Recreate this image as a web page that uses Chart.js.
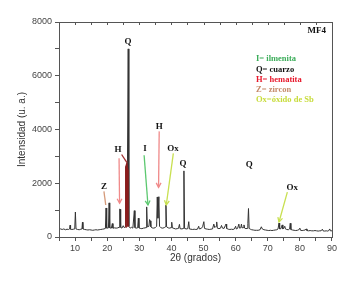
<!DOCTYPE html>
<html lang="es">
<head>
<meta charset="UTF-8">
<title>MF4 - DRX</title>
<script src="https://cdn.jsdelivr.net/npm/chart.js"></script>
<style>
    body { margin: 0; background: #fff; }
    .wrap { width: 339px; height: 281px; position: relative; }
</style>
</head>
<body>
<div class="wrap"><canvas id="drx" width="339" height="281"></canvas></div>
<script>
// 2theta (grados) and intensity (u. a.)
const theta = [5.0,5.5,6.0,6.5,7.0,7.5,8.0,8.3,8.45,8.6,9.0,9.5,9.9,10.1,10.3,10.8,11.3,11.8,12.15,12.3,12.45,13.0,13.5,14,14.5,15,15.5,16,16.5,17,17.5,18,18.5,19,19.45,19.65,19.85,20.4,20.6,20.8,21.3,21.6,21.8,22.3,22.8,23.3,23.7,23.9,24.05,24.2,24.6,25.0,25.3,25.7,25.85,26.1,26.3,26.55,26.75,27.2,27.6,28.0,28.45,28.65,29.0,29.5,29.7,29.9,30.3,30.8,31.3,31.8,32.1,32.3,32.5,33.0,33.2,33.4,33.6,34.0,34.5,35.0,35.4,35.6,35.8,36.1,36.3,36.8,37.3,37.8,38.1,38.3,38.5,39.0,39.5,39.9,40.1,40.3,40.8,41.3,41.8,42.2,42.5,42.7,43.3,43.7,43.9,44.1,44.6,45.1,45.4,45.6,46.1,46.6,47.1,47.6,48.1,48.5,48.7,49.3,49.7,50.1,50.3,50.8,51.3,51.8,52.3,52.8,53.2,53.5,53.9,54.1,54.3,54.8,55.3,55.6,55.9,56.4,56.8,57.0,57.2,57.7,58.2,58.7,59.2,59.6,60.0,60.2,60.6,61.0,61.2,61.6,61.8,62.0,62.4,62.6,62.8,63.2,63.6,63.8,64.0,64.2,64.6,65.0,65.5,66,66.5,67,67.6,68.0,68.3,68.8,69.3,69.8,70.3,70.8,71.3,71.8,72.3,72.8,73.2,73.5,73.7,74.1,74.5,74.7,75.0,75.3,75.5,75.9,76.4,76.8,77.0,77.2,77.7,78.2,78.7,79.2,79.6,80.0,80.2,80.7,81.2,81.6,82.0,82.2,82.7,83.2,83.7,84.2,84.7,85.2,85.7,86.2,86.6,87.0,87.2,87.7,88.2,88.7,89.0,89.3,89.5,90];
const intensidad = [330,300,280,300,270,290,280,300,440,290,280,290,300,930,300,280,270,290,300,550,300,280,270,260,270,260,250,260,270,260,270,280,290,300,320,1080,330,340,1270,340,330,500,330,340,330,340,360,1040,1030,360,330,420,350,380,2600,2700,2500,7000,400,330,360,330,980,350,330,340,700,340,320,310,330,340,350,1120,380,400,650,600,380,340,330,350,400,1490,700,1500,400,340,330,350,380,1190,380,340,330,350,550,340,320,300,310,320,470,310,300,320,2460,320,300,310,570,300,290,280,290,280,290,400,300,320,380,570,320,300,290,280,290,300,480,350,400,560,330,310,330,430,330,320,430,480,320,290,280,290,280,300,400,300,320,480,330,340,480,340,350,450,330,310,320,500,1060,320,290,270,260,250,250,250,270,380,300,270,260,250,240,250,240,250,260,270,300,520,300,310,450,300,330,400,300,280,270,300,510,280,260,250,240,250,260,330,250,240,250,260,300,240,230,240,230,230,240,230,220,230,230,290,230,220,230,220,240,300,230,230];

// hematite shoulder under the main quartz reflection (drawn in dark red)
const thetaHem = [25.7,25.85,26.1,26.3,26.45];
const intHem = [380,2600,2700,2500,380];

const xTicks = [5,10,15,20,25,30,35,40,45,50,55,60,65,70,75,80,85,90];

// peak labels: [text, 2theta, intensity]
const etiquetas = [
    ['Q', 26.5, 7250], ['H', 23.4, 3260], ['I', 31.8, 3300], ['H', 36.2, 4110],
    ['Ox', 40.5, 3300], ['Q', 43.6, 2740], ['Z', 19.0, 1890], ['Q', 64.2, 2700], ['Ox', 77.6, 1850]
];
// arrows: [x0, y0, x1, y1, colour, head]
const flechas = [
    [19.0, 1700, 19.55, 1190, '#d59a7a', false],
    [23.7, 2930, 23.86, 1260, '#f08a8a', true],
    [24.5, 3070, 26.1, 2780, '#a03030', false],
    [31.5, 3040, 32.7, 1190, '#5cc870', true],
    [36.2, 3930, 36.0, 1850, '#f08a8a', true],
    [40.6, 3110, 38.4, 1190, '#c8e050', true],
    [76.1, 1670, 73.5, 560, '#c8e050', true]
];
const leyenda = [
    ['I= ilmenita', '#3cad5a'], ['Q= cuarzo', '#111'], ['H= hematita', '#e8182c'],
    ['Z= zircon', '#c58a6a'], ['Ox=óxido de Sb', '#c8dc3c']
];

const puntos = theta.map((t, i) => ({ x: t, y: intensidad[i] }));
const puntosHem = thetaHem.map((t, i) => ({ x: t, y: intHem[i] }));

const decor = {
    id: 'decor',
    afterDraw(chart) {
        const ctx = chart.ctx, a = chart.chartArea;
        const xs = chart.scales.x, ys = chart.scales.y;
        ctx.save();
        // frame
        ctx.strokeStyle = '#555';
        ctx.lineWidth = 1;
        ctx.strokeRect(a.left + 0.5, a.top + 0.5, a.right - a.left, a.bottom - a.top);
        // top ticks (inward)
        xTicks.forEach(v => {
            const px = Math.round(xs.getPixelForValue(v)) + 0.5;
            ctx.beginPath(); ctx.moveTo(px, a.top); ctx.lineTo(px, a.top + 3); ctx.stroke();
        });
        // arrows
        flechas.forEach(f => {
            const x0 = xs.getPixelForValue(f[0]), y0 = ys.getPixelForValue(f[1]);
            const x1 = xs.getPixelForValue(f[2]), y1 = ys.getPixelForValue(f[3]);
            ctx.strokeStyle = f[4];
            ctx.lineWidth = 1.3;
            ctx.beginPath(); ctx.moveTo(x0, y0); ctx.lineTo(x1, y1); ctx.stroke();
            if (f[5]) {
                const ang = Math.atan2(y1 - y0, x1 - x0);
                ctx.beginPath();
                ctx.moveTo(x1 - 5 * Math.cos(ang - 0.5), y1 - 5 * Math.sin(ang - 0.5));
                ctx.lineTo(x1, y1);
                ctx.lineTo(x1 - 5 * Math.cos(ang + 0.5), y1 - 5 * Math.sin(ang + 0.5));
                ctx.stroke();
            }
        });
        // peak labels
        ctx.fillStyle = '#111';
        ctx.font = 'bold 9px "Liberation Serif"';
        ctx.textAlign = 'center';
        ctx.textBaseline = 'middle';
        etiquetas.forEach(e => {
            ctx.fillText(e[0], xs.getPixelForValue(e[1]), ys.getPixelForValue(e[2]));
        });
        // sample name
        ctx.textAlign = 'right';
        ctx.fillText('MF4', a.right - 6, a.top + 9);
        // legend of phases
        ctx.textAlign = 'left';
        ctx.font = 'bold 8.5px "Liberation Serif"';
        leyenda.forEach((l, i) => {
            ctx.fillStyle = l[1];
            ctx.fillText(l[0], a.left + 197, a.top + 37 + i * 10.3);
        });
        ctx.restore();
    }
};

new Chart(document.getElementById('drx'), {
    type: 'line',
    data: {
        datasets: [
            { data: puntosHem, borderColor: '#8a1c1c', borderWidth: 1.8, pointRadius: 0, tension: 0, order: 0 },
            { data: puntos, borderColor: '#333', borderWidth: 1, pointRadius: 0, tension: 0, order: 1 }
        ]
    },
    options: {
        responsive: false,
        animation: false,
        layout: { padding: { top: 22, right: 5, left: 0, bottom: 0 } },
        plugins: { legend: { display: false }, tooltip: { enabled: false } },
        scales: {
            x: {
                type: 'linear', min: 5, max: 90,
                afterBuildTicks: s => { s.ticks = xTicks.map(v => ({ value: v })); },
                afterFit: s => { s.height = 44; },
                border: { color: '#555', width: 1 },
                grid: { drawOnChartArea: false, tickLength: 4, color: '#555' },
                ticks: {
                    autoSkip: false, maxRotation: 0, padding: 2,
                    color: '#444', font: { family: 'Liberation Sans', size: 9 },
                    callback: v => (v % 10 === 0 ? v : '')
                },
                title: { display: true, text: '2θ (grados)', color: '#333', padding: { top: 0, bottom: 17 },
                    font: { family: 'Liberation Sans', size: 10 } }
            },
            y: {
                min: 0, max: 8000,
                ticks: {
                    stepSize: 1000, padding: 3,
                    color: '#444', font: { family: 'Liberation Sans', size: 9 },
                    callback: v => (v % 2000 === 0 ? v : '')
                },
                afterFit: s => { s.width = 59; },
                border: { color: '#555', width: 1 },
                grid: { drawOnChartArea: false, tickLength: 4, color: '#555' },
                title: { display: true, text: 'Intensidad (u. a.)', color: '#333', padding: { top: 16, bottom: 0 },
                    font: { family: 'Liberation Sans', size: 10 } }
            }
        }
    },
    plugins: [decor]
});
</script>
</body>
</html>
